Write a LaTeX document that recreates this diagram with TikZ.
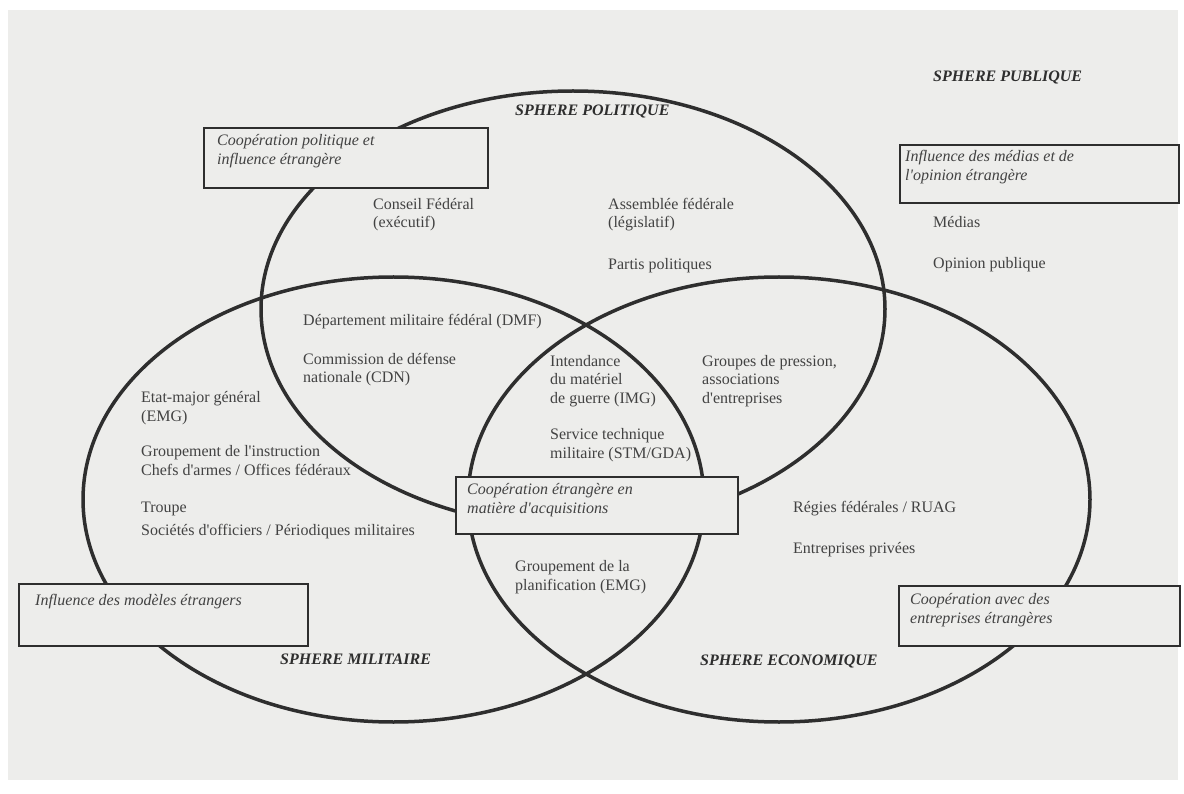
\documentclass[tikz,border=0pt]{standalone}
\usepackage{fontspec}
\setmainfont{Liberation Serif}[Ligatures=TeXOff]
\usetikzlibrary{positioning}

\definecolor{trait}{HTML}{2E2E2E}
\definecolor{texte}{HTML}{424242}
\definecolor{papier}{HTML}{EDEDEB}

\tikzset{
  sphere/.style={draw=trait, line width=3.5pt},
  cadre/.style={draw=trait, line width=1.8pt, fill=papier, anchor=north west, inner sep=0pt},
  etiquette/.style={inner sep=0pt, anchor=base west, align=left, text=texte,
    font=\fontsize{16}{18.5}\selectfont},
  remarque/.style={etiquette, font=\fontsize{16}{19}\selectfont\itshape},
  titre/.style={etiquette, text=trait, font=\fontsize{16}{19}\selectfont\bfseries\itshape}
}

\begin{document}
\begin{tikzpicture}[x=1pt, y=-1pt]
      \useasboundingbox (0,0) rectangle (1184,794);
      \fill[white] (0,0) rectangle (1184,794);
      \fill[papier] (8,10) rectangle (1178,780);

      % Sphère politique
      \draw[sphere] (573,309) ellipse [x radius=312pt, y radius=218pt];
      % Sphère militaire
      \draw[sphere] (393.5,499.5) ellipse [x radius=310.5pt, y radius=222.5pt];
      % Sphère économique
      \draw[sphere] (779,499.5) ellipse [x radius=311pt, y radius=222.5pt];

      % Titres des sphères
      \node[titre] (publique) at (933,82) {SPHERE PUBLIQUE};
      \node[titre] (politique) at (515,116) {SPHERE POLITIQUE};
      \node[titre] (militaire) at (280,664) {SPHERE MILITAIRE};
      \node[titre] (economique) at (700,665) {SPHERE ECONOMIQUE};

      % Influences étrangères (ancre = dernière ligne)
      \node[cadre, minimum width=284pt, minimum height=60pt] (cpol) at (203,127) {};
      \node[remarque] (tcpol) at ([shift={(14pt,-38pt)}]cpol.north west)
        {Coopération politique et\\influence étrangère};
      \node[cadre, minimum width=279pt, minimum height=58pt] (cmed) at (899,144) {};
      \node[remarque] (tcmed) at ([shift={(6pt,-37pt)}]cmed.north west)
        {Influence des médias et de\\l'opinion étrangère};
      \node[cadre, minimum width=282pt, minimum height=57pt] (cacq) at (455,476) {};
      \node[remarque] (tcacq) at ([shift={(12pt,-37pt)}]cacq.north west)
        {Coopération étrangère en\\matière d'acquisitions};
      \node[cadre, minimum width=289pt, minimum height=62pt] (cmod) at (18,583) {};
      \node[remarque] (tcmod) at ([shift={(17pt,-22pt)}]cmod.north west)
        {Influence des modèles étrangers};
      \node[cadre, minimum width=281pt, minimum height=60pt] (cent) at (898,585) {};
      \node[remarque] (tcent) at ([shift={(12pt,-38pt)}]cent.north west)
        {Coopération avec des\\entreprises étrangères};

      % Acteurs politiques et publics
      \node[etiquette] (conseil) at (373,228) {Conseil Fédéral\\(exécutif)};
      \node[etiquette] (assemblee) at (608,228) {Assemblée fédérale\\(législatif)};
      \node[etiquette] (partis) at (608,270) {Partis politiques};
      \node[etiquette] (medias) at (933,228) {Médias};
      \node[etiquette] (opinion) at (933,269) {Opinion publique};

      % Acteurs militaires
      \node[etiquette] (dmf) at (303,326) {Département militaire fédéral (DMF)};
      \node[etiquette] (cdn) at (303,383) {Commission de défense\\nationale (CDN)};
      \node[etiquette] (emg) at (141,421) {Etat-major général\\(EMG)};
      \node[etiquette] (instruction) at (141,475) {Groupement de l'instruction\\Chefs d'armes / Offices fédéraux};
      \node[etiquette] (troupe) at (141,512) {Troupe};
      \node[etiquette] (societes) at (141,535) {Sociétés d'officiers / Périodiques militaires};
      \node[etiquette] (planif) at (515,590) {Groupement de la\\planification (EMG)};

      % Armement et économie
      \node[etiquette] (img) at (550,403) {Intendance\\du matériel\\de guerre (IMG)};
      \node[etiquette] (stm) at (550,458) {Service technique\\militaire (STM/GDA)};
      \node[etiquette] (pression) at (702,403) {Groupes de pression,\\associations\\d'entreprises};
      \node[etiquette] (regies) at (793,512) {Régies fédérales / RUAG};
      \node[etiquette] (entreprises) at (793,553) {Entreprises privées};
    \end{tikzpicture}
\end{document}
